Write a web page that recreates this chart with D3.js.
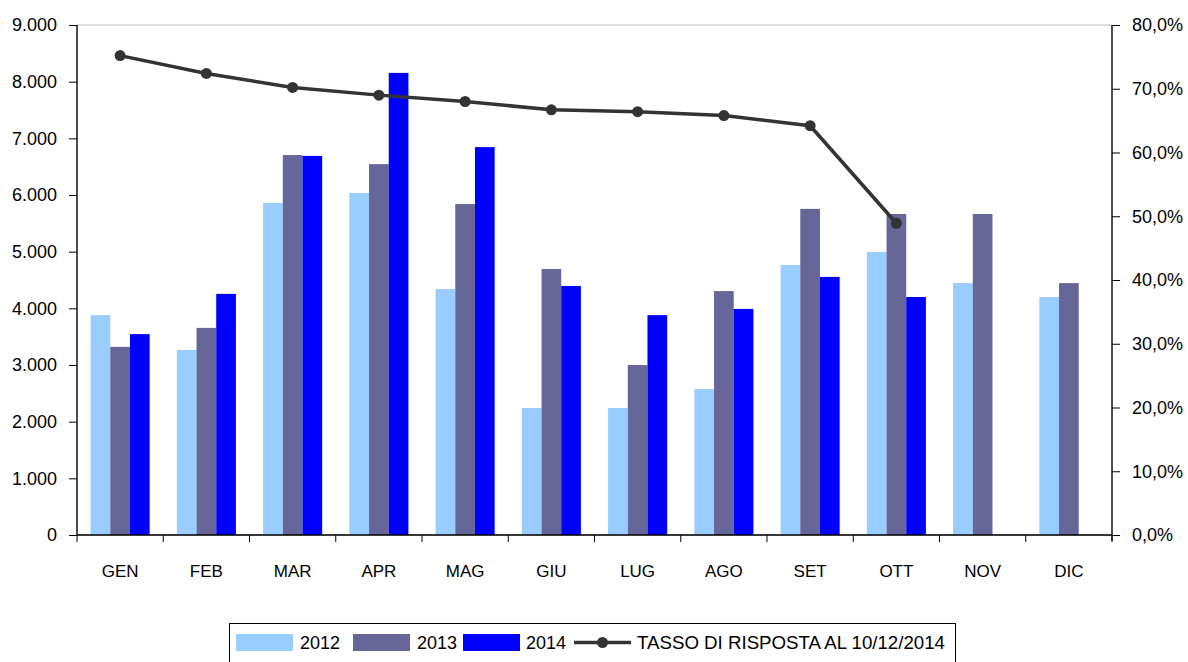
<!DOCTYPE html>
<html>
<head>
<meta charset="utf-8">
<script src="https://cdn.jsdelivr.net/npm/d3@7"></script>
<style>
  body { margin: 0; background: #fff; }
  svg { display: block; }
  text { font-family: "Liberation Sans", Arial, sans-serif; fill: #000; }
</style>
</head>
<body>
<svg id="chart" width="1188" height="662"></svg>
<script>
const months = ["GEN","FEB","MAR","APR","MAG","GIU","LUG","AGO","SET","OTT","NOV","DIC"];
const series = ["2012","2013","2014"];
const values2012 = [3880, 3265, 5860, 6035, 4340, 2240, 2240, 2575, 4765, 4995, 4445, 4200];
const values2013 = [3320, 3655, 6705, 6545, 5840, 4695, 3000, 4305, 5755, 5665, 5665, 4445];
const values2014 = [3545, 4255, 6690, 8155, 6845, 4395, 3880, 3990, 4555, 4200, null, null];
const rate = [0.752, 0.724, 0.702, 0.690, 0.680, 0.667, 0.664, 0.658, 0.642, 0.489];
const leftTicks = [0,1000,2000,3000,4000,5000,6000,7000,8000,9000];
const rightTicks = [0,0.1,0.2,0.3,0.4,0.5,0.6,0.7,0.8];
const colors = {"2012":"#99CCFF","2013":"#666699","2014":"#0000FF"};
const lineColor = "#333333";
const lineLabel = "TASSO DI RISPOSTA AL 10/12/2014";

const svg = d3.select("#chart");
const L = 77, R = 1112, T = 25, B = 535;

const x = d3.scaleBand().domain(months).range([L, R]).paddingInner(0).paddingOuter(0);
const x1 = d3.scaleBand().domain(series).range([0, x.bandwidth()]).paddingInner(0).paddingOuter(0.69);
const y = d3.scaleLinear().domain([0, 9000]).range([B, T]);
const y2 = d3.scaleLinear().domain([0, 0.8]).range([B, T]);

// plot area border
svg.append("rect").attr("x", L).attr("y", T).attr("width", R - L).attr("height", B - T)
  .attr("fill", "none").attr("stroke", "#bdbdbd").attr("stroke-width", 1);

const data = {"2012": values2012, "2013": values2013, "2014": values2014};
series.forEach(s => {
  svg.append("g").selectAll("rect")
    .data(months.map((m, i) => ({m, v: data[s][i]})).filter(d => d.v != null))
    .join("rect")
    .attr("x", d => x(d.m) + x1(s))
    .attr("width", x1.bandwidth())
    .attr("y", d => y(d.v))
    .attr("height", d => B - y(d.v))
    .attr("fill", colors[s]);
});

// left axis
const fmtL = d => d === 0 ? "0" : d3.format(",")(d).replace(/,/g, ".");
const gl = svg.append("g").attr("transform", `translate(${L},0)`)
  .call(d3.axisLeft(y).tickValues(leftTicks).tickFormat(fmtL).tickSizeOuter(0).tickSizeInner(8).tickPadding(12));
// right axis
const fmtR = d => d3.format(".1f")(d * 100).replace(".", ",") + "%";
const gr = svg.append("g").attr("transform", `translate(${R},0)`)
  .call(d3.axisRight(y2).tickValues(rightTicks).tickFormat(fmtR).tickSizeOuter(0).tickSizeInner(8).tickPadding(12));
// bottom axis
const gb = svg.append("g").attr("transform", `translate(0,${B})`)
  .call(d3.axisBottom(x).tickSize(0).tickPadding(30));
gb.selectAll(".tick").append("line")
  .attr("x1", -x.bandwidth() / 2).attr("x2", -x.bandwidth() / 2).attr("y1", 0).attr("y2", 7)
  .attr("stroke", "#000");
gb.append("line").attr("x1", R).attr("x2", R).attr("y1", 0).attr("y2", 7).attr("stroke", "#000");

[gl, gr].forEach(g => g.selectAll("text").style("font-size", "18px"));
gb.selectAll("text").style("font-size", "17px");
[gl, gr, gb].forEach(g => {
  g.selectAll("text").style("font-family", '"Liberation Sans", Arial, sans-serif').attr("fill", "#000");
  g.selectAll(".domain").attr("stroke", "#000").attr("stroke-width", 1.3);
  g.selectAll("line").attr("stroke", "#000");
});
gl.selectAll(".domain").attr("d", `M0,${T}V${B}`);
gr.selectAll(".domain").attr("d", `M0,${T}V${B + 6}`);
gb.selectAll(".domain").attr("d", `M${L},0H${R}`);

// line series
const pts = rate.map((r, i) => ({m: months[i], r}));
const line = d3.line().x(d => x(d.m) + x.bandwidth() / 2).y(d => y2(d.r));
svg.append("path").datum(pts).attr("d", line).attr("fill", "none")
  .attr("stroke", lineColor).attr("stroke-width", 3.5).attr("stroke-linejoin", "round");
svg.append("g").selectAll("circle").data(pts).join("circle")
  .attr("cx", d => x(d.m) + x.bandwidth() / 2).attr("cy", d => y2(d.r)).attr("r", 5.5)
  .attr("fill", lineColor);

// legend
const lg = svg.append("g");
lg.append("rect").attr("x", 229.5).attr("y", 623.5).attr("width", 726).attr("height", 45)
  .attr("fill", "#fff").attr("stroke", "#000").attr("stroke-width", 1);
const legItems = [
  {label: "2012", type: "bar", c: colors["2012"], sx: 236, tx: 300},
  {label: "2013", type: "bar", c: colors["2013"], sx: 353, tx: 417},
  {label: "2014", type: "bar", c: colors["2014"], sx: 463, tx: 526},
  {label: lineLabel, type: "line", c: lineColor, sx: 574, tx: 637}
];
legItems.forEach(it => {
  if (it.type === "bar") {
    lg.append("rect").attr("x", it.sx).attr("y", 634).attr("width", 57).attr("height", 17).attr("fill", it.c);
  } else {
    lg.append("line").attr("x1", it.sx).attr("x2", it.sx + 57).attr("y1", 642.5).attr("y2", 642.5)
      .attr("stroke", it.c).attr("stroke-width", 3.5);
    lg.append("circle").attr("cx", it.sx + 28.5).attr("cy", 642.5).attr("r", 5.5).attr("fill", it.c);
  }
  const t = lg.append("text").attr("x", it.tx).attr("y", 649).text(it.label)
    .style("font-size", "19px").style("font-family", '"Liberation Sans Narrow", "Arial Narrow", "Liberation Sans", Arial, sans-serif');
  const target = it.type === "bar" ? 40 : 308;
  t.attr("textLength", target).attr("lengthAdjust", "spacingAndGlyphs");
});
</script>
</body>
</html>
